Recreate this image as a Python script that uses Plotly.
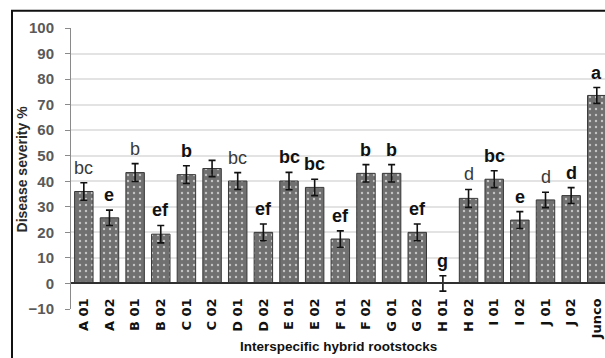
import plotly.graph_objects as go

# Rootstock categories and disease severity (%) with standard errors
categories = ["A 01", "A 02", "B 01", "B 02", "C 01", "C 02", "D 01", "D 02",
              "E 01", "E 02", "F 01", "F 02", "G 01", "G 02", "H 01", "H 02",
              "I 01", "I 02", "J 01", "J 02", "Junco"]
severity = [36, 25.7, 43.4, 19.3, 42.6, 45, 40.1, 20, 40.1, 37.6, 17.4, 43.1,
            43.1, 20, 0, 33.3, 40.8, 24.8, 32.7, 34.4, 73.6]
std_err = [3.4, 3.0, 3.5, 3.4, 3.5, 3.2, 3.3, 3.3, 3.4, 3.2, 3.2, 3.4, 3.4,
           3.3, 3.0, 3.5, 3.3, 3.3, 3.0, 3.1, 3.1]
# Significance letters; an empty string means no letter shown
letters = ["bc", "e", "b", "ef", "b", "", "bc", "ef", "bc", "bc", "ef", "b",
           "b", "ef", "g", "d", "bc", "e", "d", "d", "a"]
letter_bold = [False, True, False, True, True, False, False, True, True, True,
               True, True, True, True, True, False, True, True, False, True, True]
y_ticks = list(range(-10, 101, 10))

x_idx = list(range(len(categories)))

fig = go.Figure()
fig.add_trace(go.Bar(
    x=x_idx,
    y=severity,
    width=0.72,
    marker=dict(
        color="#707070",
        line=dict(color="#383838", width=1),
        pattern=dict(shape=".", fillmode="replace", bgcolor="#707070",
                     fgcolor="#c4c4c4", size=6, solidity=0.12),
    ),
    error_y=dict(type="data", array=std_err, color="#111111",
                 thickness=1.6, width=3.5),
    showlegend=False,
))

for i, (lab, bold) in enumerate(zip(letters, letter_bold)):
    if not lab:
        continue
    fig.add_annotation(
        x=i, y=severity[i] + std_err[i], yref="y", xref="x",
        text=f"<b>{lab}</b>" if bold else lab,
        showarrow=False, yanchor="bottom", yshift=3,
        font=dict(family="Liberation Sans, Arial, sans-serif", size=18,
                  color="#111111" if bold else "#3a3a3a"),
    )

# Y axis title placed as a rotated annotation
fig.add_annotation(
    x=-0.0918, y=0.5, xref="paper", yref="paper",
    text="<b>Disease severity %</b>", textangle=-90, showarrow=False,
    xanchor="center", yanchor="middle",
    font=dict(family="Liberation Sans, Arial, sans-serif", size=14,
              color="#2a2a2a"),
)

# X axis title placed as an annotation under the category labels
fig.add_annotation(
    x=0.5, y=-0.135, xref="paper", yref="paper",
    text="<b>Interspecific hybrid rootstocks</b>", showarrow=False,
    xanchor="center", yanchor="middle",
    font=dict(family="Liberation Sans, Arial, sans-serif", size=13.5,
              color="#111111"),
)

# Outer frame around the chart (left and top edges), as one open path
frame_x = -0.1105
frame_y = 1.061
fig.add_shape(type="path", xref="paper", yref="paper",
              path=f"M {frame_x} -0.2 L {frame_x} {frame_y} L 1.05 {frame_y}",
              line=dict(color="#111111", width=2), layer="above")

zero_pos = 10 / 110

fig.update_layout(
    width=605, height=358,
    margin=dict(l=71, r=0, t=28, b=49, autoexpand=False),
    paper_bgcolor="white", plot_bgcolor="white",
    xaxis=dict(
        range=[-0.5, 20.32], automargin=False,
        tickmode="array", tickvals=x_idx, ticktext=categories,
        tickangle=-90, anchor="free", position=zero_pos,
        showgrid=False, showline=True, linecolor="#303030", linewidth=1.5,
        ticks="", ticklabelstandoff=9,
        tickfont=dict(family="DejaVu Sans, sans-serif", size=13,
                      color="#111111", weight="bold"),
    ),
    yaxis=dict(
        range=[-10, 100], tickvals=y_ticks, automargin=False,
        showgrid=True, gridcolor="#e3e3e3", gridwidth=1.5,
        zeroline=False,
        showline=True, linecolor="#8a8a8a", linewidth=1,
        ticks="outside", ticklen=5, tickcolor="#8a8a8a",
        ticklabelstandoff=8,
        tickfont=dict(family="Liberation Sans, Arial, sans-serif", size=15,
                      color="#595959", weight="bold"),
    ),
)

fig.write_html("out.html")
